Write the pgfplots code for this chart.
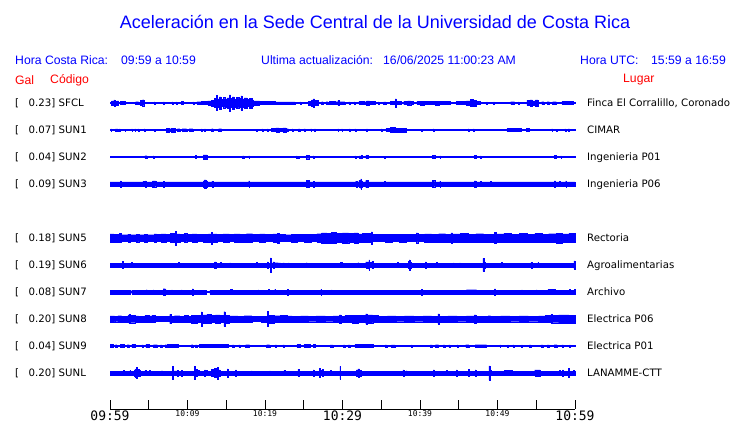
\documentclass[border=0pt]{standalone}
\usepackage{fontspec}
\usepackage{pgfplots}
\usepackage{pgfplotstable}
\pgfplotsset{compat=1.18}
\newfontfamily\arial{Liberation Sans}
\newfontfamily\dvs{DejaVu Sans}
\newfontfamily\dvsm{DejaVu Sans Mono}
\definecolor{tblue}{RGB}{0,0,255}
\definecolor{tred}{RGB}{255,0,0}

% half-amplitude envelope (pixels) of each trace, held from time t (minutes after 09:59)
\pgfplotstableread[row sep=\\]{t a\\
0 0.6\\ 0.2 2.0\\ 0.5 3.2\\ 0.6 1.8\\ 0.9 2.2\\ 1.1 0.6\\ 1.3 1.5\\ 2.0 0.6\\ 3.3 1.3\\ 3.7 0.6\\
3.9 2.5\\ 4.2 3.3\\ 4.35 2.0\\ 4.45 0.6\\ 5.7 1.2\\ 5.8 0.6\\ 6.9 1.0\\ 7.0 0.6\\ 8.0 1.2\\ 8.1 0.6\\
8.5 1.0\\ 8.6 0.6\\ 9.2 1.4\\ 9.5 0.6\\ 10.7 1.0\\ 10.8 0.6\\ 11.2 1.3\\ 11.8 1.6\\ 12.6 2.0\\ 13.1 2.8\\
13.5 4.5\\ 13.7 7.5\\ 13.85 4.0\\ 14.1 6.0\\ 14.3 3.5\\ 14.6 5.5\\ 14.8 4.0\\ 15.1 5.0\\ 15.4 8.2\\ 15.55 4.5\\
15.8 6.0\\ 16.0 3.8\\ 16.3 5.5\\ 16.6 4.5\\ 16.9 7.2\\ 17.05 4.0\\ 17.3 5.0\\ 17.7 3.5\\ 18.0 4.8\\ 18.3 3.0\\
18.5 2.2\\ 19.0 2.0\\ 19.3 1.6\\ 20.9 1.5\\ 21.3 1.2\\ 23.9 0.6\\ 24.5 1.0\\ 24.6 0.6\\ 25.6 1.8\\ 26.0 3.0\\
26.2 4.0\\ 26.4 2.5\\ 26.9 0.6\\ 27.3 1.3\\ 27.5 0.6\\ 27.9 1.3\\ 28.1 0.6\\ 28.3 1.4\\ 29.0 1.3\\ 29.4 2.5\\
29.6 1.3\\ 30.3 0.6\\ 30.8 1.2\\ 31.0 0.6\\ 31.5 1.0\\ 31.6 0.6\\ 32.1 1.5\\ 32.8 1.3\\ 33.1 2.2\\ 33.5 1.5\\
34.2 0.6\\ 34.6 1.0\\ 34.7 0.6\\ 35.3 1.2\\ 35.6 0.6\\ 36.2 1.5\\ 36.8 4.2\\ 36.95 1.6\\ 37.6 0.6\\ 37.9 1.6\\
38.4 2.0\\ 38.8 1.5\\ 39.1 0.6\\ 39.6 1.5\\ 40.0 1.8\\ 40.5 1.5\\ 42.0 1.8\\ 42.5 1.5\\ 43.9 0.6\\ 44.7 1.5\\
46.0 2.0\\ 46.5 3.5\\ 46.9 2.8\\ 47.3 1.5\\ 47.7 0.6\\ 48.6 1.0\\ 48.7 0.6\\ 49.5 1.0\\ 49.6 0.6\\ 51.7 1.3\\
52.2 0.6\\ 52.7 1.0\\ 52.8 0.6\\ 53.8 2.5\\ 54.2 3.2\\ 54.5 2.0\\ 54.9 3.0\\ 55.2 0.6\\ 55.7 1.3\\ 56.0 0.6\\
56.4 1.3\\ 56.7 0.6\\ 57.1 1.3\\ 57.6 0.6\\ 58.3 1.5\\ 59.8 0.6\\ 60 0.6\\
}\tSFCL

\pgfplotstableread[row sep=\\]{t a\\
0 0.6\\ 0.1 1.0\\ 0.2 0.6\\ 0.7 1.2\\ 1.0 0.6\\ 1.2 1.0\\ 1.3 0.6\\ 1.9 0.9\\ 2.0 0.6\\ 2.8 1.0\\
2.9 0.6\\ 3.2 1.0\\ 3.3 0.6\\ 3.6 1.0\\ 3.7 0.6\\ 4.4 1.0\\ 4.5 0.6\\ 5.7 0.9\\ 5.8 0.6\\ 7.3 1.8\\
7.6 1.3\\ 7.9 1.8\\ 8.4 0.6\\ 8.7 1.3\\ 9.0 0.6\\ 9.3 1.3\\ 9.9 0.6\\ 10.2 1.3\\ 10.7 0.6\\ 11.8 1.0\\
11.9 0.6\\ 12.2 1.0\\ 12.3 0.6\\ 13.1 1.3\\ 13.3 0.6\\ 14.0 1.3\\ 14.4 0.6\\ 18.9 0.9\\ 19.0 0.6\\ 19.6 1.0\\
19.7 0.6\\ 20.3 1.0\\ 20.4 0.6\\ 20.8 1.6\\ 21.4 2.2\\ 21.8 1.5\\ 22.3 2.0\\ 22.7 1.3\\ 23.0 0.6\\ 23.5 1.0\\
23.6 0.6\\ 24.3 1.2\\ 24.5 0.6\\ 25.0 1.0\\ 25.2 0.6\\ 25.9 1.0\\ 26.0 0.6\\ 26.4 1.0\\ 26.5 0.6\\ 29.4 1.0\\
29.5 0.6\\ 29.9 1.0\\ 30.0 0.6\\ 30.9 1.0\\ 31.0 0.6\\ 31.6 1.0\\ 31.7 0.6\\ 33.1 1.0\\ 33.2 0.6\\ 35.0 1.0\\
35.1 0.6\\ 35.6 1.4\\ 36.2 2.5\\ 36.8 1.8\\ 38.2 0.6\\ 40.2 0.9\\ 40.3 0.6\\ 41.7 1.0\\ 41.8 0.6\\ 46.2 1.0\\
46.3 0.6\\ 46.9 1.0\\ 47.0 0.6\\ 51.2 1.4\\ 53.1 0.6\\ 53.7 1.4\\ 54.1 0.6\\ 57.0 1.0\\ 57.1 0.6\\ 57.6 0.9\\
57.7 0.6\\ 58.7 1.0\\ 58.8 0.6\\ 59.1 1.2\\ 59.3 0.6\\ 60 0.6\\
}\tSUNa

\pgfplotstableread[row sep=\\]{t a\\
0 0.5\\ 4.5 1.3\\ 4.8 0.5\\ 5.55 1.0\\ 5.65 0.5\\ 11.0 1.5\\ 11.1 0.5\\ 12.0 2.0\\ 12.5 0.5\\ 17.1 1.0\\
17.3 0.5\\ 17.9 1.0\\ 18.0 0.5\\ 24.05 1.2\\ 24.15 0.5\\ 24.3 0.9\\ 24.4 0.5\\ 25.3 1.7\\ 25.7 0.5\\ 26.2 1.0\\
26.3 0.5\\ 31.6 1.0\\ 31.7 0.5\\ 32.2 1.3\\ 32.3 0.5\\ 32.4 1.5\\ 32.6 0.5\\ 33.0 1.4\\ 33.3 0.5\\ 35.4 0.8\\
35.5 0.5\\ 41.6 1.4\\ 41.9 0.5\\ 42.55 1.0\\ 42.65 0.5\\ 47.0 1.4\\ 47.3 0.5\\ 47.8 1.0\\ 47.9 0.5\\ 57.3 1.4\\
57.6 0.5\\ 58.15 1.0\\ 58.25 0.5\\ 60 0.5\\
}\tSUNb

\pgfplotstableread[row sep=\\]{t a\\
0 2.0\\ 1.35 3.0\\ 1.45 2.0\\ 4.25 2.6\\ 4.35 2.0\\ 4.55 3.0\\ 4.65 2.0\\ 5.5 3.0\\ 5.9 2.0\\ 6.85 2.7\\
6.95 2.0\\ 12.0 3.2\\ 12.15 4.2\\ 12.4 3.0\\ 12.55 2.0\\ 13.15 2.8\\ 13.25 2.0\\ 17.9 3.0\\ 18.0 2.0\\ 25.3 3.5\\
25.7 2.0\\ 26.2 2.8\\ 26.3 2.0\\ 31.7 2.8\\ 31.9 2.0\\ 32.1 3.5\\ 32.35 5.0\\ 32.45 3.0\\ 32.6 2.0\\ 33.0 3.6\\
33.3 2.0\\ 35.4 2.6\\ 35.5 2.0\\ 41.6 3.5\\ 41.9 2.0\\ 42.55 2.8\\ 42.65 2.0\\ 47.0 3.0\\ 47.2 2.0\\ 47.8 2.6\\
47.9 2.0\\ 49.1 2.4\\ 49.2 2.0\\ 57.3 3.0\\ 57.5 2.0\\ 58.0 2.5\\ 58.1 2.0\\ 58.8 3.0\\ 58.9 2.0\\ 60 2.0\\
}\tSUNc

\pgfplotstableread[row sep=\\]{t a\\
0 4.2\\ 0.5 3.8\\ 1.2 4.4\\ 1.5 3.3\\ 2.3 3.8\\ 2.6 3.3\\ 3.4 3.8\\ 3.7 3.3\\ 4.4 3.9\\ 4.8 3.3\\
5.7 4.0\\ 6.0 3.4\\ 6.6 4.2\\ 7.2 3.5\\ 7.8 4.5\\ 8.3 4.0\\ 8.4 6.8\\ 8.55 4.2\\ 9.0 3.5\\ 9.6 4.6\\
9.9 3.5\\ 10.6 4.0\\ 11.2 3.4\\ 12.0 3.9\\ 12.7 4.2\\ 13.05 5.8\\ 13.2 4.0\\ 13.8 3.5\\ 14.6 4.2\\ 15.4 3.6\\
16.0 4.2\\ 16.8 3.8\\ 17.6 4.3\\ 18.4 3.6\\ 19.3 4.1\\ 20.0 3.5\\ 21.0 4.0\\ 21.6 4.8\\ 21.8 3.6\\ 22.6 3.3\\
23.4 3.8\\ 24.2 3.4\\ 25.0 3.9\\ 26.0 3.5\\ 26.7 4.3\\ 27.3 5.2\\ 28.0 4.8\\ 28.6 5.6\\ 29.2 4.6\\ 30.0 5.2\\
30.8 4.5\\ 31.5 5.0\\ 32.0 4.0\\ 32.6 4.5\\ 33.7 6.2\\ 33.85 3.6\\ 34.5 3.4\\ 35.5 3.8\\ 36.4 3.4\\ 37.3 3.8\\
38.2 3.4\\ 39.5 5.0\\ 39.7 3.6\\ 40.6 4.2\\ 41.5 3.8\\ 42.4 4.3\\ 43.3 3.8\\ 44.0 5.0\\ 44.2 4.0\\ 45.2 4.4\\
46.2 3.8\\ 47.2 4.3\\ 48.2 3.8\\ 49.6 5.6\\ 49.8 4.0\\ 50.8 4.4\\ 51.8 3.8\\ 52.8 4.4\\ 53.8 3.8\\ 54.8 4.4\\
55.8 3.8\\ 56.6 4.3\\ 57.6 4.8\\ 58.4 4.2\\ 59.2 4.6\\ 60 4.6\\
}\tSUNe

\pgfplotstableread[row sep=\\]{t a\\
0 1.8\\ 1.55 3.6\\ 1.65 1.8\\ 2.75 2.6\\ 2.85 1.8\\ 8.85 2.4\\ 8.95 1.8\\ 13.5 3.0\\ 13.65 1.8\\ 14.25 2.5\\
14.4 1.8\\ 15.45 2.2\\ 15.55 1.8\\ 18.9 2.4\\ 19.0 1.8\\ 20.3 3.0\\ 20.4 1.8\\ 20.7 7.0\\ 20.8 1.8\\ 21.0 3.0\\
21.2 2.3\\ 21.7 2.2\\ 22.0 1.8\\ 22.3 2.2\\ 22.5 1.8\\ 23.0 2.2\\ 23.1 1.8\\ 25.35 2.3\\ 25.45 1.8\\ 29.75 2.5\\
29.9 1.8\\ 32.0 2.3\\ 32.1 1.8\\ 33.0 3.0\\ 33.4 5.2\\ 33.5 2.6\\ 33.8 3.6\\ 33.9 1.8\\ 37.1 2.5\\ 37.2 1.8\\
38.5 3.6\\ 38.6 5.0\\ 38.7 2.8\\ 38.8 1.8\\ 40.7 3.0\\ 40.8 1.8\\ 42.1 2.5\\ 42.2 1.8\\ 44.3 2.2\\ 44.4 1.8\\
45.1 2.2\\ 45.2 1.8\\ 48.1 6.5\\ 48.25 3.0\\ 48.4 1.8\\ 50.5 2.5\\ 50.6 1.8\\ 54.3 2.7\\ 54.5 1.8\\ 55.2 2.5\\
55.3 1.8\\ 59.85 4.0\\ 60 4.0\\
}\tSUNf

\pgfplotstableread[row sep=\\]{t a\\
0 1.8\\ 2.55 0.6\\ 2.8 1.8\\ 4.7 2.3\\ 4.8 1.8\\ 5.55 2.2\\ 5.65 1.8\\ 6.85 3.3\\ 7.15 2.2\\ 7.3 1.8\\
7.95 2.2\\ 8.05 1.8\\ 9.2 2.2\\ 9.3 1.8\\ 10.6 3.0\\ 10.75 1.8\\ 12.45 0.6\\ 12.9 1.8\\ 15.55 2.6\\ 15.7 1.8\\
19.1 2.2\\ 19.2 1.8\\ 20.4 2.4\\ 20.5 1.8\\ 21.25 2.5\\ 21.35 1.8\\ 22.85 2.8\\ 23.0 1.8\\ 25.8 0.6\\ 26.0 1.8\\
27.2 2.8\\ 27.3 1.8\\ 28.55 2.2\\ 28.65 1.8\\ 32.9 0.6\\ 33.1 1.8\\ 40.15 2.8\\ 40.3 1.8\\ 46.0 2.3\\ 47.3 1.8\\
49.6 3.2\\ 49.75 1.8\\ 53.1 2.2\\ 53.2 1.8\\ 55.0 2.2\\ 55.1 1.8\\ 56.5 2.5\\ 57.4 1.8\\ 59.3 2.4\\ 59.4 1.8\\
59.9 2.5\\ 60 2.5\\
}\tSUNg

\pgfplotstableread[row sep=\\]{t a\\
0 3.2\\ 0.6 2.7\\ 1.0 3.3\\ 1.5 2.8\\ 2.3 3.6\\ 2.45 4.6\\ 2.6 3.7\\ 3.2 3.2\\ 3.7 2.8\\ 4.5 3.6\\
5.0 3.0\\ 5.4 3.6\\ 5.8 2.5\\ 7.7 4.6\\ 7.85 2.8\\ 8.3 3.3\\ 9.0 2.9\\ 9.6 3.4\\ 10.1 2.8\\ 10.5 3.8\\
11.2 3.4\\ 11.75 7.0\\ 11.9 4.0\\ 12.5 4.5\\ 13.0 3.6\\ 13.6 4.2\\ 14.2 3.6\\ 14.7 7.3\\ 14.85 3.8\\ 15.4 3.0\\
16.5 2.8\\ 17.3 3.3\\ 18.3 2.5\\ 19.5 2.8\\ 20.3 7.5\\ 20.45 3.8\\ 21.2 3.3\\ 22.0 3.6\\ 22.8 3.1\\ 23.5 2.8\\
24.6 3.2\\ 25.6 2.7\\ 26.6 3.2\\ 27.8 2.7\\ 28.8 3.2\\ 29.6 4.2\\ 29.8 2.8\\ 30.3 3.6\\ 31.2 3.9\\ 32.0 3.4\\
33.0 5.2\\ 33.2 4.0\\ 33.9 3.4\\ 34.6 2.8\\ 35.8 3.2\\ 36.9 2.7\\ 38.0 3.2\\ 39.2 2.7\\ 40.4 3.2\\ 41.5 2.8\\
42.3 5.0\\ 42.5 2.8\\ 43.6 3.2\\ 44.8 2.7\\ 46.0 3.2\\ 47.0 4.2\\ 47.2 2.8\\ 48.8 3.3\\ 49.1 2.8\\ 50.4 3.2\\
51.6 2.7\\ 52.8 3.2\\ 54.0 2.7\\ 55.3 3.1\\ 56.2 3.4\\ 56.9 4.4\\ 57.1 3.7\\ 57.9 4.0\\ 59.2 3.8\\ 60 3.8\\
}\tSUNh

\pgfplotstableread[row sep=\\]{t a\\
0 1.4\\ 0.4 0.6\\ 0.7 1.3\\ 0.9 0.6\\ 1.3 1.4\\ 1.8 0.6\\ 2.2 1.3\\ 2.5 0.6\\ 2.8 1.4\\ 3.2 0.6\\
4.1 1.2\\ 4.3 0.6\\ 4.6 1.4\\ 5.0 0.6\\ 5.6 1.3\\ 6.1 0.6\\ 6.5 1.2\\ 6.7 0.6\\ 7.1 1.3\\ 7.3 0.6\\
7.4 1.4\\ 8.8 0.6\\ 10.5 1.3\\ 10.7 0.6\\ 11.0 1.2\\ 11.2 0.6\\ 11.5 1.5\\ 15.3 0.6\\ 15.8 1.2\\ 16.0 0.6\\
16.6 1.2\\ 16.8 0.6\\ 17.5 1.3\\ 18.0 0.6\\ 20.2 1.3\\ 20.6 0.6\\ 21.3 1.2\\ 21.5 0.6\\ 22.3 1.2\\ 22.5 0.6\\
24.1 1.4\\ 24.5 0.6\\ 25.0 1.4\\ 25.8 0.6\\ 26.2 1.4\\ 26.5 0.6\\ 28.4 1.2\\ 28.8 0.6\\ 30.1 1.1\\ 30.3 0.6\\
30.7 1.2\\ 31.0 0.6\\ 31.6 1.5\\ 34.0 0.6\\ 35.5 1.2\\ 35.7 0.6\\ 36.3 1.2\\ 36.8 0.6\\ 38.9 1.0\\ 39.0 0.6\\
41.3 1.2\\ 41.6 0.6\\ 42.0 1.3\\ 42.4 0.6\\ 43.0 1.1\\ 43.2 0.6\\ 43.7 1.1\\ 43.9 0.6\\ 44.8 1.0\\ 44.9 0.6\\
45.9 1.3\\ 46.3 0.6\\ 47.1 1.3\\ 48.6 0.6\\ 50.3 1.0\\ 50.4 0.6\\ 51.3 1.0\\ 51.4 0.6\\ 52.0 1.1\\ 52.1 0.6\\
53.1 1.1\\ 53.2 0.6\\ 54.1 1.1\\ 54.3 0.6\\ 55.6 1.2\\ 55.9 0.6\\ 56.4 1.2\\ 56.7 0.6\\ 57.3 1.3\\ 57.7 0.6\\
58.3 1.2\\ 58.5 0.6\\ 59.3 1.0\\ 59.4 0.6\\ 60 0.6\\
}\tSUNi

\pgfplotstableread[row sep=\\]{t a\\
0 1.8\\ 1.7 2.5\\ 1.8 1.8\\ 2.55 2.5\\ 2.65 1.8\\ 3.1 3.0\\ 3.3 4.0\\ 3.4 5.5\\ 3.5 3.5\\ 3.7 2.8\\
3.9 1.8\\ 4.5 2.6\\ 4.6 1.8\\ 5.1 2.4\\ 5.2 1.8\\ 6.65 2.3\\ 6.75 1.8\\ 8.05 6.5\\ 8.15 2.2\\ 8.7 2.8\\
8.8 1.8\\ 9.2 2.8\\ 9.3 1.8\\ 10.85 6.5\\ 10.95 3.5\\ 11.3 2.6\\ 11.5 1.8\\ 12.2 3.0\\ 12.3 1.8\\ 12.45 2.5\\
12.55 1.8\\ 13.1 3.5\\ 13.5 4.5\\ 13.85 5.8\\ 13.95 3.2\\ 14.2 1.8\\ 15.15 4.0\\ 15.25 1.8\\ 16.2 3.0\\ 16.3 1.8\\
18.25 2.2\\ 18.35 1.8\\ 20.6 2.2\\ 20.7 1.8\\ 22.45 2.5\\ 22.55 1.8\\ 24.25 3.5\\ 24.4 1.8\\ 26.2 3.0\\ 26.3 1.8\\
27.0 4.5\\ 27.15 2.5\\ 27.4 3.6\\ 27.5 1.8\\ 28.45 2.4\\ 28.55 1.8\\ 29.65 6.5\\ 29.75 1.8\\ 31.8 3.2\\ 32.0 4.2\\
32.2 2.8\\ 32.4 1.8\\ 37.8 3.0\\ 37.9 1.8\\ 38.25 2.3\\ 38.35 1.8\\ 41.7 3.0\\ 41.85 1.8\\ 43.4 2.5\\ 43.5 1.8\\
44.7 3.0\\ 44.8 1.8\\ 46.2 3.5\\ 46.35 1.8\\ 47.1 3.0\\ 47.2 1.8\\ 48.9 7.0\\ 49.0 2.5\\ 49.2 1.8\\ 50.9 2.4\\
51.6 1.8\\ 51.8 2.6\\ 51.9 1.8\\ 54.8 3.0\\ 55.5 1.8\\ 58.0 2.6\\ 58.1 1.8\\ 58.4 3.0\\ 58.5 1.8\\ 59.1 4.5\\
59.2 1.8\\ 59.75 2.4\\ 59.85 1.8\\ 60 1.8\\
}\tSUNl

% one small axis per trace; y unit = 1pt, centred on the trace's baseline (pixel row #2)
\newcommand\trace[2]{%
\begin{axis}[at={(110pt,{423pt-#2pt})}, anchor=west, scale only axis,
  width=465pt, height=20pt, xmin=0, xmax=60, ymin=-10, ymax=10,
  axis lines=none, clip=false]
  \addplot[ybar interval, fill=tblue, draw=tblue, line width=0.3pt] table[x=t, y=a] {#1};
  \addplot[ybar interval, fill=tblue, draw=tblue, line width=0.3pt] table[x=t, y expr={-\thisrow{a}}] {#1};
\end{axis}}
\newcommand\lab[4]{%
  \node[anchor=base west, inner sep=0pt] at (15pt,{419.3pt-#1pt}) {[};
  \node[anchor=base east, inner sep=0pt] at (55.5pt,{419.3pt-#1pt}) {#2]};
  \node[anchor=base west, inner sep=0pt] at (58.5pt,{419.3pt-#1pt}) {#3};
  \node[anchor=base west, inner sep=0pt] at (587pt,{419.3pt-#1pt}) {#4};
}

\begin{document}
\begin{tikzpicture}
\path[use as bounding box, fill=white] (0,0) rectangle (740pt,423pt);
% time axis
\begin{axis}[at={(110pt,14pt)}, anchor=south west, scale only axis,
  width=465pt, height=20pt, xmin=0, xmax=60, ymin=0, ymax=1,
  axis x line*=bottom, axis y line=none,
  xtick={0,5,...,60}, xticklabels={}, xtick align=inside, major tick length=9pt,
  tick style={black, line width=0.8pt}, axis line style={black, line width=0.8pt, -},
  clip=false]
\addplot[draw=none] coordinates {(0,0) (60,0)};
\begin{scope}[every node/.style={anchor=north, inner sep=0pt, yshift=-1.5pt}]
\node[font=\dvsm\fontsize{13}{13}\selectfont] at (axis cs:0,0) {09:59};
\node[font=\dvsm\fontsize{8}{8}\selectfont] at (axis cs:10,0) {10:09};
\node[font=\dvsm\fontsize{8}{8}\selectfont] at (axis cs:20,0) {10:19};
\node[font=\dvsm\fontsize{13}{13}\selectfont] at (axis cs:30,0) {10:29};
\node[font=\dvsm\fontsize{8}{8}\selectfont] at (axis cs:40,0) {10:39};
\node[font=\dvsm\fontsize{8}{8}\selectfont] at (axis cs:50,0) {10:49};
\node[font=\dvsm\fontsize{13}{13}\selectfont] at (axis cs:60,0) {10:59};
\end{scope}
\end{axis}
\trace{\tSFCL}{103}
\trace{\tSUNa}{130}
\trace{\tSUNb}{157}
\trace{\tSUNc}{184}
\trace{\tSUNe}{238}
\trace{\tSUNf}{265}
\trace{\tSUNg}{292}
\trace{\tSUNh}{319}
\trace{\tSUNi}{346}
\trace{\tSUNl}{373}
% title and header
\node[font=\arial\fontsize{18}{20}\selectfont, text=tblue] at (375pt,401pt) {Aceleración en la Sede Central de la Universidad de Costa Rica};
\begin{scope}[every node/.style={anchor=west, inner sep=0pt, text=tblue, font=\arial\fontsize{12.2}{14}\selectfont}]
\node at (15pt,363pt) {Hora Costa Rica:};
\node at (121pt,363pt) {09:59 a 10:59};
\node at (261pt,363pt) {Ultima actualización:};
\node at (383pt,363pt) {16/06/2025 11:00:23 AM};
\node at (580pt,363pt) {Hora UTC:};
\node at (651pt,363pt) {15:59 a 16:59};
\end{scope}
\begin{scope}[every node/.style={anchor=west, inner sep=0pt, text=tred, font=\arial\fontsize{12.2}{14}\selectfont}]
\node at (15pt,343pt) {Gal};
\node at (50pt,343pt) {Código};
\node at (623pt,343pt) {Lugar};
\end{scope}
\begin{scope}[font=\dvs\fontsize{10.2}{12}\selectfont]
\lab{103}{0.23}{SFCL}{Finca El Corralillo, Coronado}
\lab{130}{0.07}{SUN1}{CIMAR}
\lab{157}{0.04}{SUN2}{Ingenieria P01}
\lab{184}{0.09}{SUN3}{Ingenieria P06}
\lab{238}{0.18}{SUN5}{Rectoria}
\lab{265}{0.19}{SUN6}{Agroalimentarias}
\lab{292}{0.08}{SUN7}{Archivo}
\lab{319}{0.20}{SUN8}{Electrica P06}
\lab{346}{0.04}{SUN9}{Electrica P01}
\lab{373}{0.20}{SUNL}{LANAMME-CTT}
\end{scope}
\end{tikzpicture}
\end{document}
